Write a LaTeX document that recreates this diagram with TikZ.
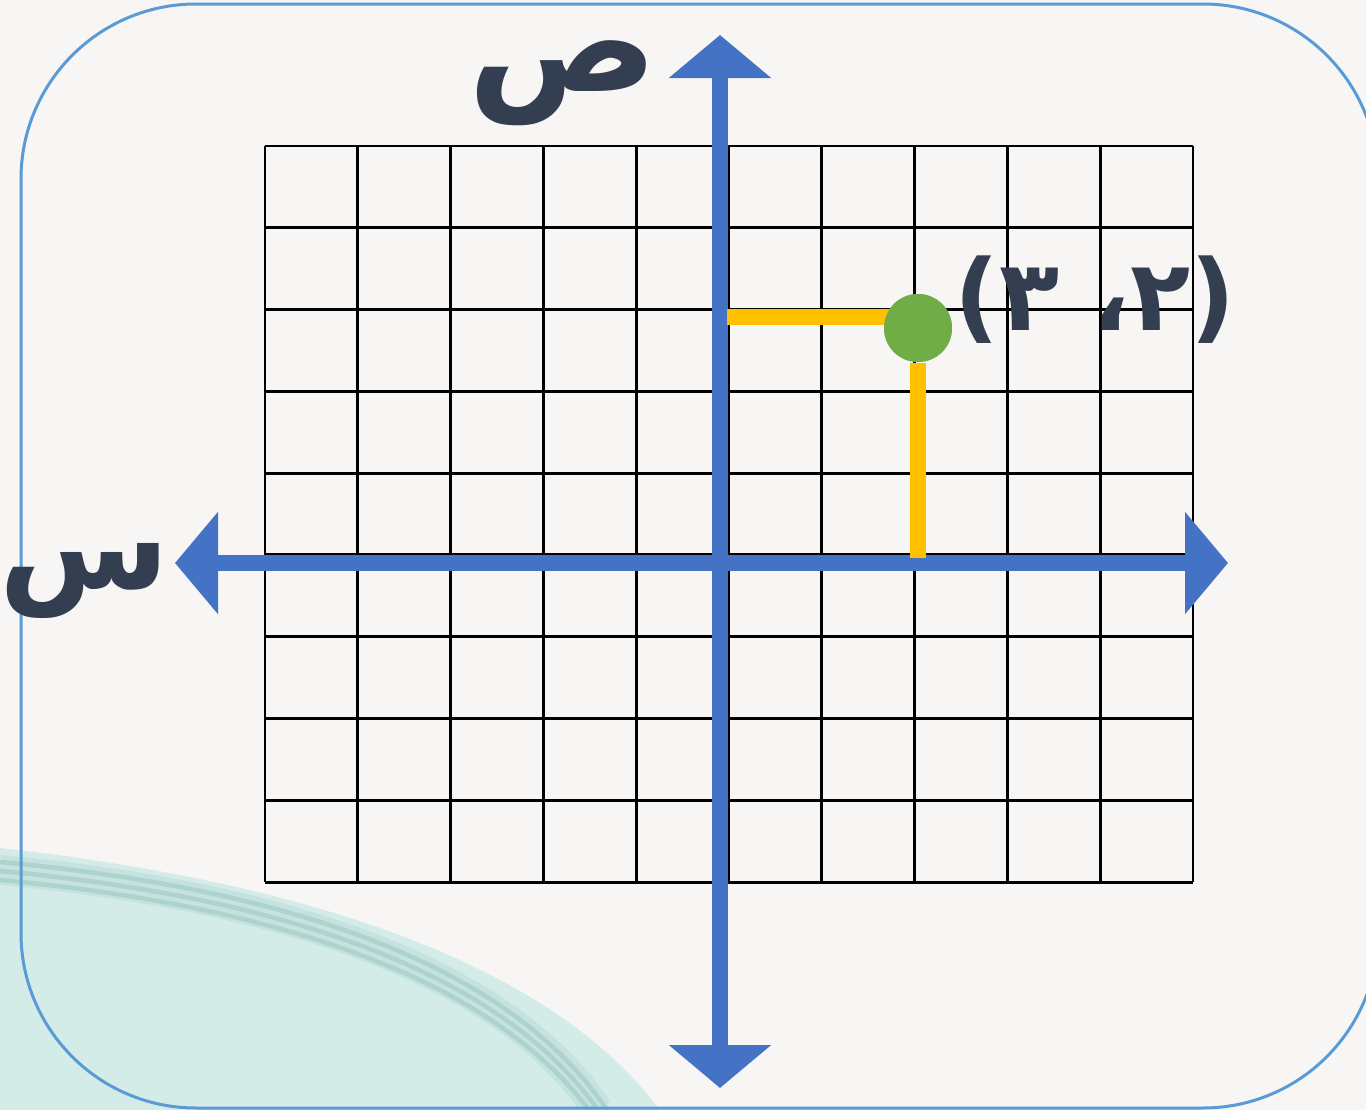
\documentclass[tikz,border=0pt]{standalone}
\usepackage{fontspec}
\newfontfamily\arabicfont[Script=Arabic]{DejaVu Sans}
\TeXXeTstate=1
\usetikzlibrary{arrows.meta}
\definecolor{axisblue}{HTML}{4472C4}
\definecolor{guideorange}{HTML}{FFC000}
\definecolor{pointgreen}{HTML}{70AD47}
\definecolor{labelslate}{HTML}{333F50}
\definecolor{frameblue}{HTML}{5B9BD5}
\definecolor{paper}{HTML}{F7F6F5}
\definecolor{swoosh}{HTML}{D4ECE8}
\definecolor{swooshband}{HTML}{C6E2DE}
\definecolor{swooshline}{HTML}{ADD3CF}
\begin{document}
\begin{tikzpicture}[x=0.1mm,y=-0.1mm,
    gridline/.style={black,line width=0.85pt},
    axis/.style={axisblue,line width=1.6mm,{Triangle[length=4.3mm,width=10mm]}-{Triangle[length=4.3mm,width=10mm]}},
    guide/.style={guideorange,line width=1.55mm},
    lbl/.style={text=labelslate,inner sep=0pt,text height=0.55em,text depth=0.35em,
      font=\arabicfont\bfseries\fontsize{40}{46}\selectfont},
    pointdot/.style={circle,fill=pointgreen,minimum size=6.8mm,inner sep=0pt}
]
\useasboundingbox (0,0) rectangle (1366,1110);
% paper and swoosh
\fill[paper] (0,0) rectangle (1366,1110);
\fill[swoosh] (0,848) .. controls (270,878) and (540,950) .. (660,1110) -- (0,1110) -- cycle;
\draw[swooshband,line width=3mm] (0,870) .. controls (250,893) and (495,958) .. (598,1110);
\foreach \d in {0,9,18}
  \draw[swooshline,line width=0.45mm] (0,862+\d) .. controls (250,885+\d) and (500-\d,950+\d) .. (607-\d,1110);
\draw[frameblue,line width=0.3mm,rounded corners=17.5mm] (21,4) rectangle (1378,1108);
% grid
\foreach \i in {0,...,10}
  \draw[gridline] (265+92.8*\i,146) -- (265+92.8*\i,882);
\foreach \j in {0,...,9}
  \draw[gridline] (265,146+81.78*\j) -- (1193,146+81.78*\j);
% axes
\coordinate (xleft) at (175,563);
\coordinate (xright) at (1228,563);
\coordinate (ybottom) at (720,1088);
\coordinate (ytop) at (720,35);
\draw[axis] (xleft) -- (xright);
\draw[axis] (ybottom) -- (ytop);
% point and guides
\node[pointdot] (pt) at (918,328) {};
\coordinate (yfoot) at (727,317);
\coordinate (xfoot) at (918,558);
\draw[guide] (yfoot) -- (900,317);
\draw[guide] (xfoot) -- (pt);
\node[pointdot] at (pt) {};
% labels
\node[lbl] (ylabel) at (563,88) {\beginR ص\endR};
\node[lbl,font=\arabicfont\bfseries\fontsize{35}{40}\selectfont] (xlabel) at (84,585) {\beginR س\endR};
\node[lbl,text height=0.8em,text depth=0.15em,font=\arabicfont\bfseries\fontsize{28}{32}\selectfont]
  (coordlabel) at (1095,319) {\beginR(٢،\,\,٣)\endR};
\end{tikzpicture}
\end{document}
